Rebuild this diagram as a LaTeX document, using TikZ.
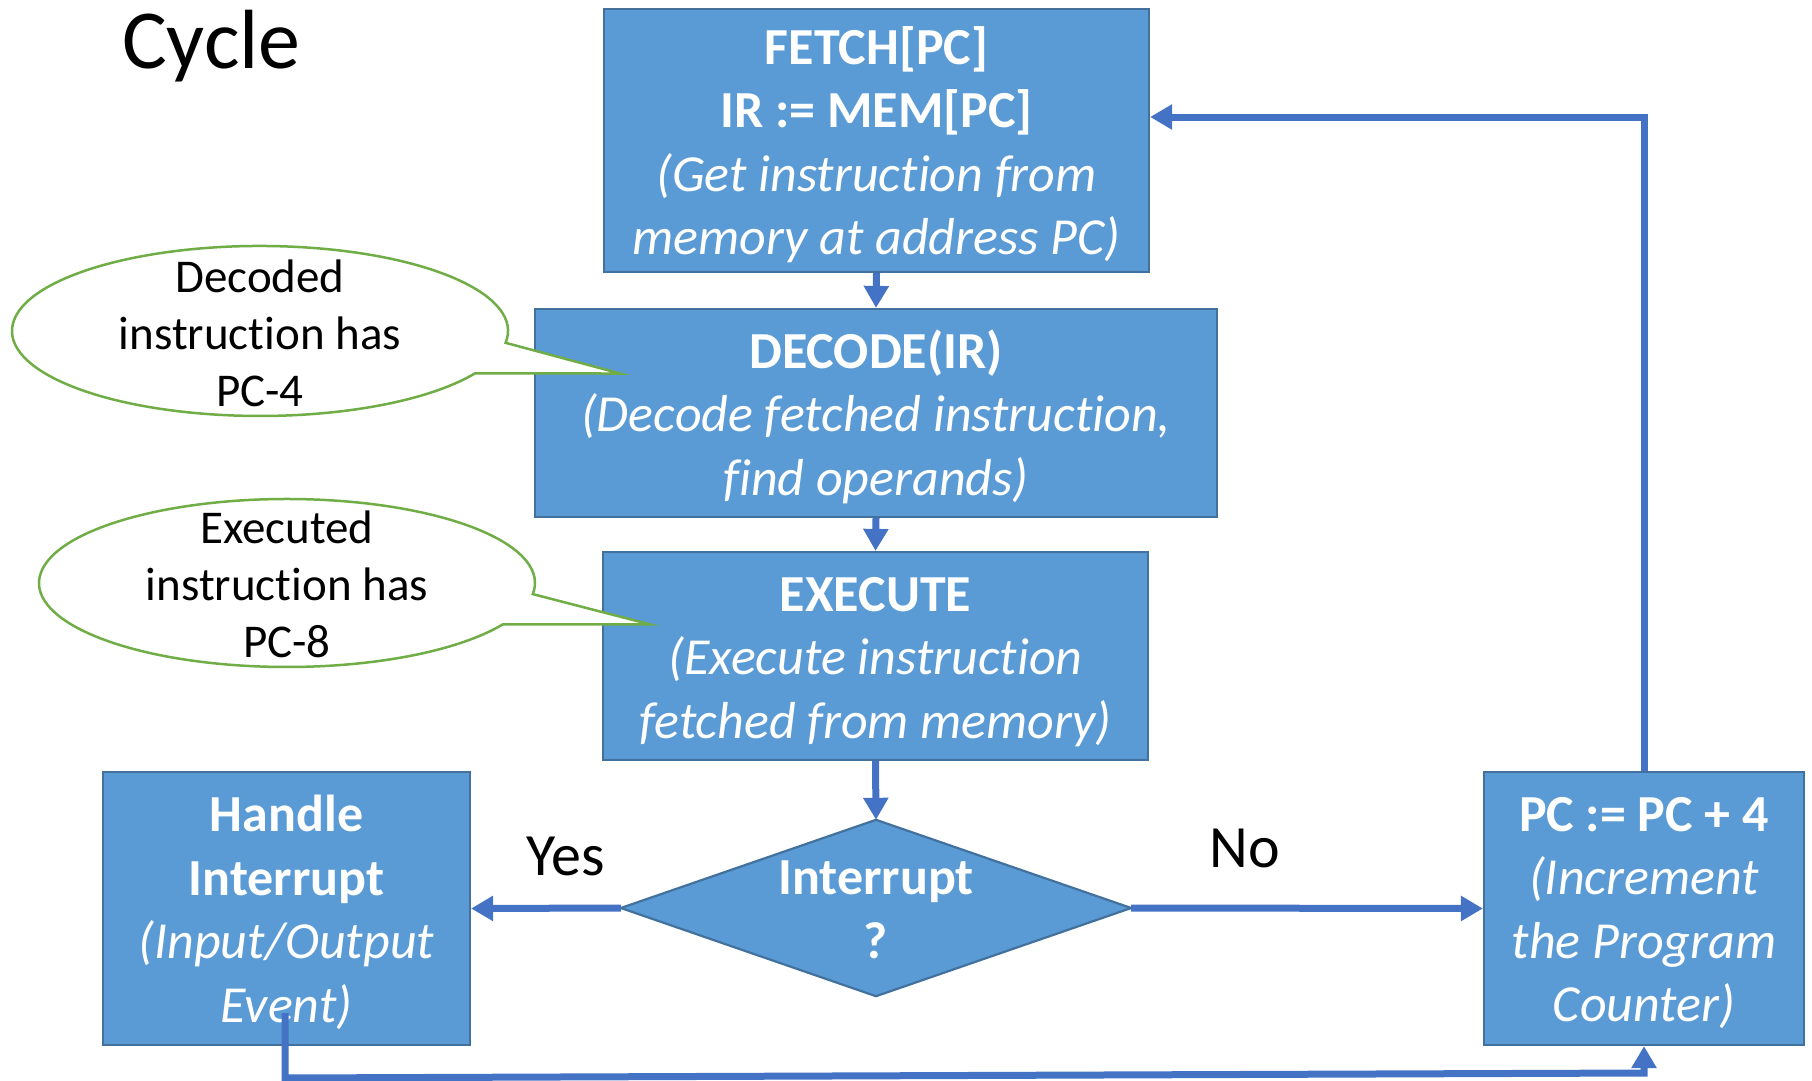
\documentclass[tikz,border=0pt]{standalone}
\usepackage{fontspec}
\setmainfont{Carlito}[Ligatures={NoCommon}]
\usetikzlibrary{arrows.meta,calc}
\definecolor{boxfill}{HTML}{5B9BD5}
\definecolor{boxline}{HTML}{41719C}
\definecolor{arr}{HTML}{4472C4}
\definecolor{callg}{HTML}{70AD47}
\begin{document}
\begin{tikzpicture}[x=1pt,y=1pt,
  blk/.style={draw=boxline, fill=boxfill, line width=2.2pt, inner sep=0pt},
  blktext/.style={inner sep=0pt, text=white, align=center, font=\fontsize{52}{63.5}\selectfont},
  conn/.style={draw=arr, line width=7pt, line join=miter, -{Triangle[width=24pt,length=22pt]}},
  callout/.style={draw=callg, fill=white, line width=2.5pt, line join=miter},
  calltext/.style={align=center, inner sep=0pt, font=\fontsize{47}{57}\selectfont},
  lbl/.style={anchor=base, inner sep=0pt, font=\fontsize{60}{70}\selectfont}]
\useasboundingbox (0,0) rectangle (1812,-1081);

% title
\node[anchor=base west, inner sep=0pt, font=\fontsize{84}{96}\selectfont] (title) at (122,-68) {Cycle};

% boxes
\node[blk, minimum width=545pt, minimum height=263pt] (fetch) at (876.5,-140.5) {};
\node[blktext] (fetcht) at (876.5,-144.5)
  {\textbf{FETCH[PC]}\\\textbf{IR := MEM[PC]}\\\textit{(Get instruction from}\\\textit{memory at address PC)}};
\node[blk, minimum width=682pt, minimum height=208pt] (decode) at (876,-413) {};
\node[blktext] (decodet) at (876,-416.5)
  {\textbf{DECODE(IR)}\\\textit{(Decode fetched instruction,}\\\textit{find operands)}};
\node[blk, minimum width=545pt, minimum height=208pt] (execute) at (875.5,-656) {};
\node[blktext] (executet) at (875.5,-662)
  {\textbf{EXECUTE}\\\textit{(Execute instruction}\\\textit{fetched from memory)}};
\node[blk, minimum width=367pt, minimum height=273pt] (handle) at (286.5,-908.5) {};
\node[blktext] (handlet) at (286.5,-912.5)
  {\textbf{Handle}\\\textbf{Interrupt}\\\textit{(Input/Output}\\\textit{Event)}};
\node[blk, minimum width=320pt, minimum height=273pt] (pc) at (1644,-908.5) {};
\node[blktext] (pct) at (1644,-913)
  {\textbf{PC := PC + 4}\\\textit{(Increment}\\\textit{the Program}\\\textit{Counter)}};

% decision diamond
\node[inner sep=0pt, minimum width=510pt, minimum height=176pt] (dia) at (876,-908) {};
\draw[draw=boxline, fill=boxfill, line width=2.2pt] (dia.west) -- (dia.north) -- (dia.east) -- (dia.south) -- cycle;
\node[blktext] (diatext) at (876,-910) {\textbf{Interrupt}\\\textbf{?}};

% callouts
\path[callout] (620,-373.5) -- (505.6,-342.8) arc[start angle=-8, end angle=330, x radius=248pt, y radius=85pt] -- cycle;
\node[calltext] (c1) at (260,-333) {Decoded\\instruction has\\PC-4};
\path[callout] (650,-624.4) -- (532.8,-594.1) arc[start angle=-7.6, end angle=330.5, x radius=248pt, y radius=84pt] -- cycle;
\node[calltext] (c2) at (287,-584) {Executed\\instruction has\\PC-8};

% connectors
\draw[conn] (fetch.south) -- (decode.north);
\draw[conn] (decode.south) -- (execute.north);
\draw[conn] (execute.south) -- (dia.north);
\draw[conn] (dia.west) -- (handle.east);
\draw[conn] (dia.east) -- (pc.west);
\coordinate (tr) at (1644,-117);
\draw[conn] (pc.north) -- (tr) -- (tr -| fetch.east);
\coordinate (hs) at (285,-1013);
\coordinate (hb) at (285,-1078);
\coordinate (pb) at (1644,-1073);
\draw[conn] (hs) -- (hb) -- (pb) -- (pc.south);

% labels
\node[lbl] (yes) at (566,-875) {Yes};
\node[lbl] (no) at (1245,-867) {No};
\end{tikzpicture}
\end{document}
